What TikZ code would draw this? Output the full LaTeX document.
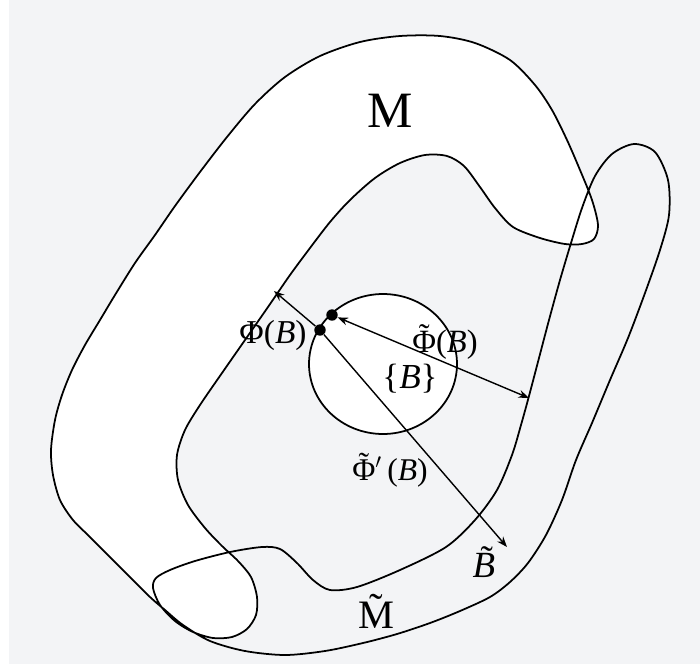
\documentclass[tikz,border=0pt]{standalone}
\usepackage{fontspec}
\setmainfont{Liberation Serif}
\usetikzlibrary{arrows.meta,shapes.geometric}
\definecolor{bggray}{RGB}{243,244,246}
\newcommand\tildeover[2][0em]{\leavevmode\ooalign{#2\cr\hidewidth\kern#1\raisebox{0.16em}{˜}\hidewidth\cr}}

\begin{document}
\begin{tikzpicture}[x=0.02cm,y=-0.02cm,>={Stealth[length=6pt,width=4.5pt]}]
  \tikzstyle{curve}=[line width=1pt,line join=round]
  \tikzstyle{disc}=[draw,ellipse,line width=1pt,fill=white,minimum width=2.96cm,minimum height=2.8cm]
  \tikzstyle{dot}=[circle,fill=black,inner sep=0pt,minimum size=6.5pt]
  \tikzstyle{arr}=[line width=0.8pt]
  \tikzstyle{lbl}=[inner sep=0pt,anchor=base]
  \useasboundingbox (0,0) rectangle (700,667);
  \fill[bggray] (9,0) rectangle (700,664);
  % band M (white)
  \fill[white] plot[smooth cycle] coordinates {
    (165,610) (150,597) (128,575) (107,554) (90,537) (73,520) (60,500) (53,475)
    (51,450) (55,420) (62,395) (72,370) (85,345) (100,320) (115,295) (135,263)
    (155,235) (175,206) (200,172) (227,137) (255,104) (285,77) (320,56) (360,42)
    (400,36) (440,36) (475,43) (510,60) (535,85) (552,110) (567,140) (580,170)
    (592,200) (598,225) (594,239) (582,244) (565,244) (540,238) (513,227) (495,208)
    (480,187) (464,166) (447,156) (425,155) (400,163) (375,178) (350,200) (330,222)
    (310,248) (290,275) (268,307) (245,340) (222,373) (200,405) (185,430) (177,455)
    (178,480) (188,505) (205,528) (222,546) (238,561) (251,577) (257,597) (256,615)
    (247,629) (232,637) (213,638) (193,632) (175,621)};
  % outline of M and tilde M, one closed curve
  \draw[curve] plot[smooth cycle] coordinates {
    (165,610) (150,597) (128,575) (107,554) (90,537) (73,520) (60,500) (53,475)
    (51,450) (55,420) (62,395) (72,370) (85,345) (100,320) (115,295) (135,263)
    (155,235) (175,206) (200,172) (227,137) (255,104) (285,77) (320,56) (360,42)
    (400,36) (440,36) (475,43) (510,60) (535,85) (552,110) (567,140) (580,170)
    (592,200) (598,225) (594,239) (582,244) (565,244) (540,238) (513,227) (495,208)
    (480,187) (464,166) (447,156) (425,155) (400,163) (375,178) (350,200) (330,222)
    (310,248) (290,275) (268,307) (245,340) (222,373) (200,405) (185,430) (177,455)
    (178,480) (188,505) (205,528) (222,546) (238,561) (251,577) (257,597) (256,615)
    (247,629) (232,637) (213,638) (193,632) (175,621) (160,605) (153,588) (156,578)
    (170,570) (195,561) (230,552) (262,547) (280,549) (297,563) (313,580) (330,590)
    (357,587) (400,570) (446,547) (475,520) (497,490) (512,455) (521,425) (529,396)
    (539,358) (549,320) (560,280) (571,243) (582,208) (595,176) (612,154) (634,144)
    (655,152) (668,180) (669,215) (660,250) (645,293) (628,338) (610,380) (592,423)
    (576,460) (562,500) (546,535) (528,563) (510,582) (490,597) (460,611) (430,623)
    (397,634) (363,643) (325,651) (285,655) (245,651) (210,641) (183,625)};
  % the set {B}
  \node[disc] (setB) at (383,364) {};
  \node[dot] (p1) at (332,315) {};
  \node[dot] (p2) at (320,330) {};
  \coordinate (endPhi) at (274,291);
  \coordinate (endPhit) at (529,398);
  \coordinate (endB) at (507,547);
  \draw[arr,->] (p2) -- (endPhi);
  \draw[arr,<->] (p1) -- (endPhit);
  \draw[arr,->] (p2) -- (endB);
  % labels
  \node[lbl,font=\fontsize{29}{30}\selectfont] (lblM) at (390,127) {M};
  \node[lbl,font=\fontsize{23}{25}\selectfont] (lblMt) at (376,628) {\tildeover{M}};
  \node[lbl,font=\fontsize{19}{21}\selectfont] (lblPhi) at (273,343) {Φ(\textit{B})};
  \node[lbl,font=\fontsize{18.5}{20}\selectfont] (lblPhit) at (445,352) {\tildeover{Φ}(\textit{B})};
  \node[lbl,font=\fontsize{20}{22}\selectfont] (lblSet) at (410,388) {\{\textit{B}\}};
  \node[lbl,font=\fontsize{18}{20}\selectfont] (lblPhip) at (390,480) {\tildeover{Φ}$^{\prime}$\,(\textit{B})};
  \node[lbl,font=\fontsize{21}{23}\selectfont] (lblB) at (484,577) {\tildeover[0.15em]{\itshape B}};
\end{tikzpicture}
\end{document}
